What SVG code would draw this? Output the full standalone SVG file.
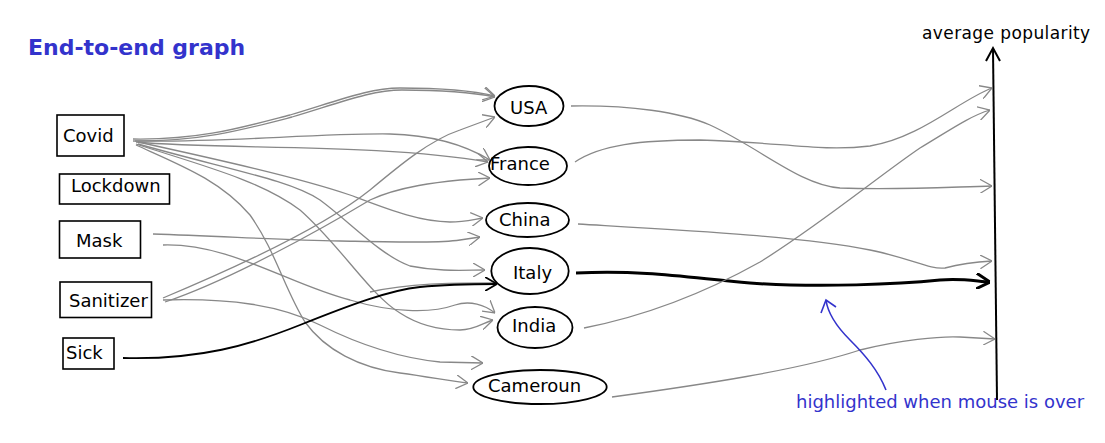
<svg xmlns="http://www.w3.org/2000/svg" width="1105" height="443" viewBox="0 0 1105 443">
<defs>
<style>
.box{fill:#fff;stroke:#000;stroke-width:1.6}
.ell{fill:#fff;stroke:#000;stroke-width:1.8}
.lbl{font-family:"DejaVu Sans","Liberation Sans",sans-serif;font-size:18px;fill:#000}
.con{fill:none;stroke:#888;stroke-width:1.3;marker-end:url(#ag)}
.hl{fill:none;stroke:#000;stroke-width:3;marker-end:url(#ab)}
.hl2{fill:none;stroke:#000;stroke-width:1.8;marker-end:url(#ab2)}
.blue{font-family:"DejaVu Sans","Liberation Sans",sans-serif;fill:#3333cc}
</style>
<marker id="ag" viewBox="0 0 12 14" refX="12" refY="7" markerWidth="12" markerHeight="14" markerUnits="userSpaceOnUse" orient="auto"><path d="M0,0 L12,7 L0,14" fill="none" stroke="#888" stroke-width="1.3"/></marker>
<marker id="ab" viewBox="0 0 14 16" refX="14" refY="8" markerWidth="14" markerHeight="16" markerUnits="userSpaceOnUse" orient="auto"><path d="M0,0 L14,8 L0,16" fill="none" stroke="#000" stroke-width="3"/></marker>
<marker id="ab2" viewBox="0 0 12 14" refX="12" refY="7" markerWidth="12" markerHeight="14" markerUnits="userSpaceOnUse" orient="auto"><path d="M0,0 L12,7 L0,14" fill="none" stroke="#000" stroke-width="1.8"/></marker>
</defs>
<rect width="1105" height="443" fill="#fff"/>
<text x="28" y="55" font-family="DejaVu Sans,Liberation Sans,sans-serif" font-weight="bold" font-size="22" fill="#3333cc">End-to-end graph</text>

<g id="connectors">
<path class="con" d="M133,139 C200,140 240,128 290,115 C340,100 370,88 400,88 C440,88 470,90 495,96"/>
<path class="con" d="M135,141 C202,141 242,130 292,117 C342,102 372,90 402,90 C442,90 470,92 495,97"/>
<path class="con" d="M133,141 C220,143 320,133 390,134 C430,135 465,145 490,160"/>
<path class="con" d="M136,142 C220,150 380,143 488,162"/>
<path class="con" d="M138,142 C220,160 300,178 350,195 C390,210 420,222 450,222 C465,222 475,219 483,218"/>
<path class="con" d="M138,144 C230,170 290,180 320,200 C350,222 380,255 410,266 C440,272 465,270 485,270"/>
<path class="con" d="M136,144 C200,165 260,180 300,210 C340,245 370,295 400,313 C420,326 440,330 460,330 C475,330 485,322 493,320"/>
<path class="con" d="M136,145 C180,165 220,180 250,215 C275,250 285,290 305,322 C325,350 360,368 400,373 C430,377 450,381 468,383"/>
<path class="con" d="M153,234 C220,236 280,240 340,241 C400,242 440,243 460,240 L480,237"/>
<path class="con" d="M163,245 C230,243 290,285 350,300 C390,312 430,314 455,305 C470,300 485,305 495,313"/>
<path class="con" d="M163,298 C230,270 320,230 370,190 C400,165 430,140 460,130 L495,117"/>
<path class="con" d="M165,302 C230,280 320,230 370,200 C400,186 440,182 460,180 L490,178"/>
<path class="con" d="M163,300 C230,298 280,305 320,325 C360,345 400,358 440,362 L483,363"/>
<path d="M370,292 C410,283 450,283 493,283" fill="none" stroke="#888" stroke-width="1.3"/>
<path class="hl2" d="M123,358 C200,360 250,345 300,325 C350,305 390,290 420,287 C450,284 470,284 497,284"/>

<path class="con" d="M571,106 C630,105 680,112 710,125 C760,148 800,185 840,188 C900,190 950,187 992,186"/>
<path class="con" d="M575,162 C600,145 640,140 700,140 C780,142 820,152 870,146 C920,138 960,100 992,88"/>
<path class="con" d="M578,224 C680,230 800,236 870,250 C910,258 930,270 945,268 C960,264 975,262 992,261"/>
<path class="hl" d="M576,273 C650,270 690,278 750,283 C820,288 900,284 940,280 C960,278 975,281 990,282"/>
<path class="con" d="M584,328 C650,315 710,290 760,262 C820,225 880,175 920,148 C950,130 970,116 990,110"/>
<path class="con" d="M612,397 C700,385 800,370 860,350 C900,340 940,336 960,337 L995,339"/>
</g>

<g id="node-covid"><rect class="box" x="57" y="115" width="67" height="41"/><text class="lbl" x="63" y="142">Covid</text></g>
<g id="node-lockdown"><rect class="box" x="59.5" y="174" width="110" height="30"/><text class="lbl" x="71" y="192">Lockdown</text></g>
<g id="node-mask"><rect class="box" x="59.5" y="221" width="81" height="37"/><text class="lbl" x="76" y="247">Mask</text></g>
<g id="node-sanitizer"><rect class="box" x="60" y="282" width="91.5" height="35.5"/><text class="lbl" x="69" y="307">Sanitizer</text></g>
<g id="node-sick"><rect class="box" x="63" y="338" width="51" height="31"/><text class="lbl" x="66" y="359">Sick</text></g>

<g id="node-usa"><ellipse class="ell" cx="529" cy="106" rx="34.5" ry="20"/><text class="lbl" x="510" y="114">USA</text></g>
<g id="node-france"><ellipse class="ell" cx="528" cy="166" rx="39" ry="19"/><text class="lbl" x="490" y="170">France</text></g>
<g id="node-china"><ellipse class="ell" cx="527.5" cy="220" rx="41.5" ry="17"/><text class="lbl" x="499" y="226">China</text></g>
<g id="node-italy"><ellipse class="ell" cx="530" cy="271" rx="38.7" ry="23"/><text class="lbl" x="513" y="279">Italy</text></g>
<g id="node-india"><ellipse class="ell" cx="535" cy="327.5" rx="37.5" ry="20.5"/><text class="lbl" x="512" y="332">India</text></g>
<g id="node-cameroun"><ellipse class="ell" cx="540" cy="387" rx="66.7" ry="17"/><text class="lbl" x="488" y="392">Cameroun</text></g>

<g id="axis">
<path d="M997,400 L993,49" fill="none" stroke="#000" stroke-width="2"/>
<path d="M986,61 L993,48 L1000,61" fill="none" stroke="#000" stroke-width="2"/>
<text x="922" y="39" font-family="DejaVu Sans,Liberation Sans,sans-serif" font-size="17" letter-spacing="0.4" fill="#000">average popularity</text>
</g>

<g id="annotation">
<path d="M886,390 C878,370 865,355 850,340 C838,328 828,315 826,300" fill="none" stroke="#3333cc" stroke-width="1.6"/>
<path d="M821,313 L826,300 L836,307" fill="none" stroke="#3333cc" stroke-width="1.6"/>
<text class="blue" x="796" y="408" font-size="18">highlighted when mouse is over</text>
</g>
</svg>
